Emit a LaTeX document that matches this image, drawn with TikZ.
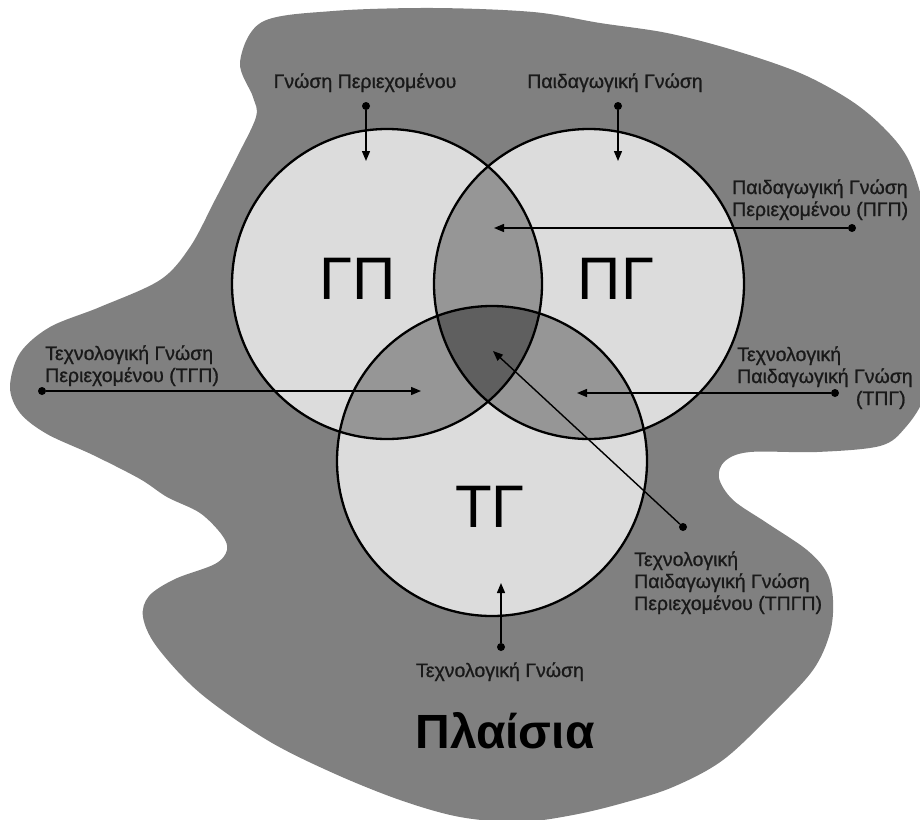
\documentclass[tikz,border=0pt]{standalone}
\usepackage{fontspec}
\setmainfont{Liberation Sans}
\newfontfamily\lblfont[FakeBold=0.9]{Liberation Sans}
\usetikzlibrary{arrows.meta}
\definecolor{blobgray}{HTML}{808080}
\definecolor{lightc}{HTML}{DCDCDC}
\definecolor{pairc}{HTML}{969696}
\definecolor{triplec}{HTML}{5F5F5F}
\begin{document}
\begin{tikzpicture}[x=1pt,y=-1pt,
  lbl/.style={font=\lblfont\fontsize{19.5}{22}\selectfont, text=black!90, inner sep=0pt},
  big/.style={font=\fontsize{60}{60}\selectfont, inner sep=0pt},
  title/.style={font=\fontsize{48}{48}\selectfont\bfseries, inner sep=0pt},
  dot/.style={circle, fill=black, inner sep=0pt, minimum size=8pt},
  arr/.style={line width=1.4pt, -{Triangle[length=10pt,width=8pt]}},
  ring/.style={line width=2.3pt, draw=black}]
\useasboundingbox (0,0) rectangle (920,819);
% background blob
\fill[blobgray] plot[smooth cycle, tension=0.55] coordinates {
 (240,62) (262,22) (333,11) (433,8) (533,12) (600,23) (667,33) (733,50)
 (800,73) (850,100) (883,127) (907,157) (922,200) (932,260) (933,340)
 (925,395) (905,428) (880,446) (817,452) (750,452) (725,461) (719,478)
 (733,500) (767,523) (807,550) (827,573) (833,600) (830,633) (813,670)
 (773,713) (723,760) (673,787) (623,803) (573,815) (520,822) (460,817)
 (400,800) (333,773) (267,740) (200,693) (157,647) (143,617) (149,596)
 (175,579) (215,564) (227,550) (222,535) (200,513) (167,497) (140,479)
 (93,455) (47,434) (20,413) (10,387) (20,353) (50,327) (100,307)
 (160,280) (190,247) (215,200) (237,157) (256,117) (253,97)};
% circles
\coordinate (A) at (387,284);
\coordinate (B) at (589,284);
\coordinate (C) at (492,461);
\fill[lightc] (A) circle (155pt);
\fill[lightc] (B) circle (155pt);
\fill[lightc] (C) circle (155pt);
\begin{scope}
 \clip (A) circle (155pt);
 \fill[pairc] (B) circle (155pt);
 \fill[pairc] (C) circle (155pt);
\end{scope}
\begin{scope}
 \clip (B) circle (155pt);
 \fill[pairc] (C) circle (155pt);
\end{scope}
\begin{scope}
 \clip (A) circle (155pt);
 \clip (B) circle (155pt);
 \fill[triplec] (C) circle (155pt);
\end{scope}
\draw[ring] (A) circle (155pt);
\draw[ring] (B) circle (155pt);
\draw[ring] (C) circle (155pt);
% big labels
\node[big, anchor=base] (GP) at (358,299) {ΓΠ};
\node[big, anchor=base] (PG) at (616,299) {ΠΓ};
\node[big, anchor=base] (TG) at (490,527) {ΤΓ};
% small labels
\node[lbl, anchor=base] (lGP) at (365,88) {Γνώση Περιεχομένου};
\node[lbl, anchor=base] (lPG) at (615,88) {Παιδαγωγική Γνώση};
\node[lbl, anchor=base west] (lPGP) at (732,194)
  {\begin{tabular}[t]{@{}l@{}}Παιδαγωγική Γνώση\\Περιεχομένου (ΠΓΠ)\end{tabular}};
\node[lbl, anchor=base west] (lTGP) at (45,360)
  {\begin{tabular}[t]{@{}l@{}}Τεχνολογική Γνώση\\Περιεχομένου (ΤΓΠ)\end{tabular}};
\node[lbl, anchor=base west] (lTPG) at (737,361)
  {\begin{tabular}[t]{@{}l@{}}Τεχνολογική\\Παιδαγωγική Γνώση\\\multicolumn{1}{@{}r@{}}{(ΤΠΓ)\hspace*{7pt}}\end{tabular}};
\node[lbl, anchor=base west] (lTPGP) at (634,566)
  {\begin{tabular}[t]{@{}l@{}}Τεχνολογική\\Παιδαγωγική Γνώση\\Περιεχομένου (ΤΠΓΠ)\end{tabular}};
\node[lbl, anchor=base] (lTG) at (500,677) {Τεχνολογική Γνώση};
\node[title, anchor=base] (ctx) at (505,748) {Πλαίσια};
% connectors
\node[dot] (dGP) at (366,106) {};
\coordinate (tGP) at (366,161);
\draw[arr] (dGP) -- (tGP);
\node[dot] (dPG) at (618,106) {};
\coordinate (tPG) at (618,161);
\draw[arr] (dPG) -- (tPG);
\node[dot] (dPGP) at (852,228) {};
\coordinate (tPGP) at (494,228);
\draw[arr] (dPGP) -- (tPGP);
\node[dot] (dTGP) at (42,391) {};
\coordinate (tTGP) at (421,391);
\draw[arr] (dTGP) -- (tTGP);
\node[dot] (dTPG) at (835,393) {};
\coordinate (tTPG) at (577,393);
\draw[arr] (dTPG) -- (tTPG);
\node[dot] (dTPGP) at (683,527) {};
\coordinate (tTPGP) at (493,351);
\draw[arr] (dTPGP) -- (tTPGP);
\node[dot] (dTG) at (501,647) {};
\coordinate (tTG) at (501,583);
\draw[arr] (dTG) -- (tTG);
\end{tikzpicture}
\end{document}
